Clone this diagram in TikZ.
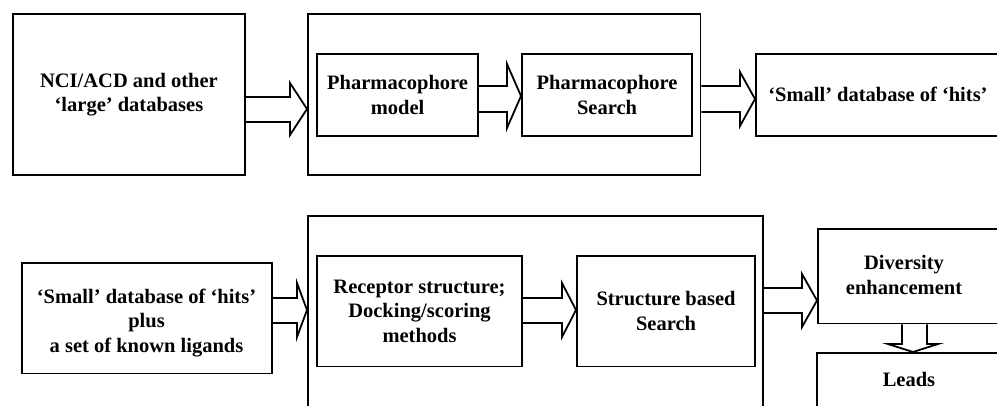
\documentclass[tikz,border=0pt]{standalone}
\usepackage{fontspec}
\setmainfont{Liberation Serif}
\begin{document}
\begin{tikzpicture}[x=1bp,y=-1bp]
\tikzset{
  box/.style={draw, line width=1.8bp, inner sep=0pt, anchor=north west,
    font=\bfseries\fontsize{20.5bp}{24.5bp}\selectfont, align=center},
  txt/.style={font=\bfseries\fontsize{20.5bp}{24.5bp}\selectfont, align=center, inner sep=0pt},
  barrow/.style={draw, line width=1.8bp, line join=miter}
}
\useasboundingbox (0,0) rectangle (997,405);
\clip (0,0) rectangle (997,405);
% #1 from, #2 to, #3 head start x, #4 shaft top, #5 shaft bottom, #6 head top, #7 head bottom, #8 tip y
\newcommand\hblock[8]{%
  \draw[barrow] (#1.east |- 0,#4) -- (#3,#4) -- (#3,#6) -- (#2.west |- 0,#8)
    -- (#3,#7) -- (#3,#5) -- (#1.east |- 0,#5);}
% top row
\node[box, minimum width=233, minimum height=162] (b1) at (12,13) {NCI/ACD and other\\`large' databases};
\node[box, minimum width=394, minimum height=162] (b2) at (307,13) {};
\node[box, minimum width=162, minimum height=82] (pm) at (316,53) {Pharmacophore\\model};
\node[box, minimum width=171, minimum height=82] (ps) at (521,53) {Pharmacophore\\Search};
\node[box, minimum width=245, minimum height=82] (sm) at (755,53) {`Small' database of `hits'};
\hblock{b1}{b2}{290}{97}{122}{83}{135}{109}
\hblock{pm}{ps}{507}{86}{112}{64}{128}{96}
\hblock{b2}{sm}{740}{86}{112}{72}{126}{99}
% bottom row
\node[box, minimum width=251, minimum height=111] (b4) at (21,262) {};
\node[txt] (b4t) at (146.5,323) {`Small' database of `hits'\\plus\\a set of known ligands};
\node[box, minimum width=457, minimum height=220] (b5) at (307,215) {};
\node[box, minimum width=206, minimum height=111] (rs) at (316,255) {Receptor structure;\\Docking/scoring\\methods};
\node[box, minimum width=179, minimum height=111] (sb) at (576,255) {Structure based\\Search};
\node[box, minimum width=200, minimum height=95] (dv) at (817,228) {};
\node[txt] (dvt) at (904,275) {Diversity\\enhancement};
\node[box, minimum width=200, minimum height=80] (ld) at (816,352) {};
\node[txt] (ldt) at (909,379) {Leads};
\hblock{b4}{b5}{297}{298}{323}{283}{337}{310}
\hblock{rs}{sb}{562}{298}{323}{283}{337}{310}
\hblock{b5}{dv}{802}{288}{313}{274}{327}{300.5}
% down arrow
\draw[barrow] (dv.south -| 902,0) -- (902,344) -- (888,344) -- (ld.north -| 913,0)
  -- (938,344) -- (927,344) -- (dv.south -| 927,0);
\end{tikzpicture}
\end{document}
